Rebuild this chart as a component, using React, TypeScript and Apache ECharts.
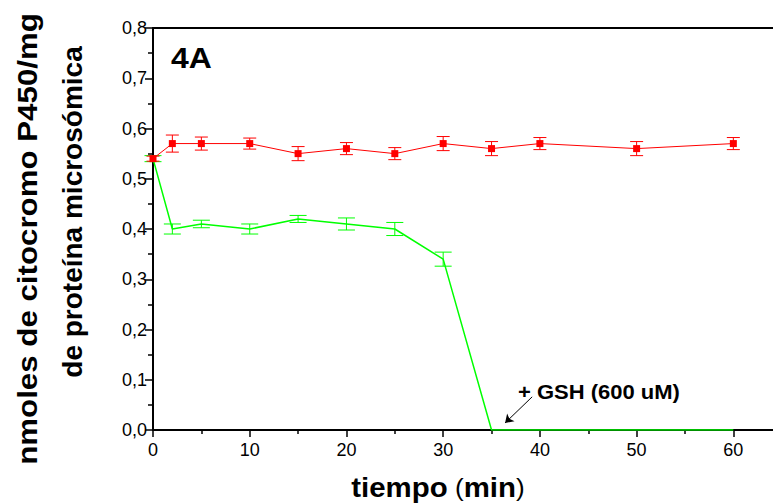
import { useEffect, useRef } from "react";
import * as echarts from "echarts";

const FONT = '"Liberation Sans", Arial, sans-serif';

// time points (min)
const times = [0, 2, 5, 10, 15, 20, 25, 30, 35, 40, 50, 60];
// control (red) series
const controlValues = [0.54, 0.57, 0.57, 0.57, 0.55, 0.56, 0.55, 0.57, 0.56, 0.57, 0.56, 0.57];
const controlErrors = [0.005, 0.017, 0.013, 0.011, 0.014, 0.012, 0.012, 0.014, 0.014, 0.012, 0.014, 0.012];
// treated (green) series
const greenValues = [0.54, 0.4, 0.41, 0.4, 0.42, 0.41, 0.4, 0.34, 0, 0, 0, 0];
const greenErrors = [0.006, 0.01, 0.0075, 0.01, 0.007, 0.012, 0.013, 0.014, 0, 0, 0, 0];

const xTicks = [0, 10, 20, 30, 40, 50, 60];
const yTicksFormat = (v: number) => v.toFixed(1).replace(".", ",");

// annotation arrow (data coordinates)
const arrowStart = [39.2, 0.066];
const arrowEnd = [36.4, 0.014];

function errorSeries(values: number[], errors: number[], color: string, capW: number) {
  const data = times
    .map((t, i) => [t, values[i] - errors[i], values[i] + errors[i], errors[i]])
    .filter((d) => d[3] > 0);
  return {
    type: "custom",
    clip: false,
    silent: true,
    data,
    encode: { x: 0, y: [1, 2] },
    renderItem: (_params: any, api: any) => {
      const x = api.value(0);
      const p1 = api.coord([x, api.value(1)]);
      const p2 = api.coord([x, api.value(2)]);
      const w = capW / 2;
      const style = { stroke: color, lineWidth: 1, fill: "none" };
      return {
        type: "group",
        children: [
          { type: "line", shape: { x1: p1[0], y1: p1[1], x2: p2[0], y2: p2[1] }, style },
          { type: "line", shape: { x1: p1[0] - w, y1: p1[1], x2: p1[0] + w, y2: p1[1] }, style },
          { type: "line", shape: { x1: p2[0] - w, y1: p2[1], x2: p2[0] + w, y2: p2[1] }, style },
        ],
      };
    },
  };
}

export default function App() {
  const ref = useRef<HTMLDivElement>(null);
  useEffect(() => {
    const chart = echarts.init(ref.current!, null, { renderer: "svg" });
    const axisLabelStyle = { color: "#000", fontSize: 18, fontFamily: FONT };
    chart.setOption({
      animation: false,
      backgroundColor: "#fff",
      grid: { left: 153, top: 28, right: 0, bottom: 73, containLabel: false },
      xAxis: [
        {
          type: "value",
          position: "bottom",
          min: 0,
          max: 64.1,
          interval: 10,
          axisLine: { show: true, onZero: false, lineStyle: { color: "#000", width: 2 } },
          axisTick: { show: true, length: 7, customValues: xTicks, lineStyle: { color: "#000", width: 1.5 } },
          minorTick: { show: true, splitNumber: 2, length: 4, lineStyle: { color: "#000", width: 1.5 } },
          splitLine: { show: false },
          minorSplitLine: { show: false },
          axisLabel: { ...axisLabelStyle, margin: 11, customValues: xTicks },
        },
        {
          type: "value",
          position: "top",
          min: 0,
          max: 64.1,
          axisLine: { show: true, onZero: false, lineStyle: { color: "#000", width: 2 } },
          axisTick: { show: false },
          axisLabel: { show: false },
          splitLine: { show: false },
        },
      ],
      yAxis: {
        type: "value",
        min: 0,
        max: 0.8,
        interval: 0.1,
        axisLine: { show: true, onZero: false, lineStyle: { color: "#000", width: 2 } },
        axisTick: { show: true, length: 8, lineStyle: { color: "#000", width: 1.5 } },
        minorTick: { show: true, splitNumber: 2, length: 5, lineStyle: { color: "#000", width: 1.5 } },
        splitLine: { show: false },
        minorSplitLine: { show: false },
        axisLabel: { ...axisLabelStyle, margin: 6, formatter: yTicksFormat },
      },
      series: [
        {
          type: "line",
          data: times.map((t, i) => [t, greenValues[i]]),
          symbol: "none",
          lineStyle: { color: "#00ff00", width: 1.5 },
          itemStyle: { color: "#00ff00" },
          markLine: {
            silent: true,
            symbol: ["none", "arrow"],
            symbolSize: 8,
            label: { show: false },
            lineStyle: { color: "#000", width: 1, type: "solid" },
            data: [[{ coord: arrowStart }, { coord: arrowEnd }]],
          },
        },
        errorSeries(greenValues, greenErrors, "#00ff00", 17),
        {
          type: "line",
          data: times.map((t, i) => [t, controlValues[i]]),
          symbol: "rect",
          symbolSize: 7,
          lineStyle: { color: "#ff0000", width: 1 },
          itemStyle: { color: "#ff0000" },
          z: 4,
        },
        { ...errorSeries(controlValues, controlErrors, "#ff0000", 13), z: 4 },
      ],
      graphic: [
        {
          type: "text",
          x: 171,
          y: 58,
          scaleX: 1.1,
          style: { text: "4A", font: `bold 29px ${FONT}`, fill: "#000", textAlign: "left", textVerticalAlign: "middle" },
        },
        {
          type: "text",
          x: 27,
          y: 239,
          rotation: Math.PI / 2,
          scaleX: 1.117,
          style: {
            text: "nmoles de citocromo P450/mg",
            font: `bold 28px ${FONT}`,
            fill: "#000",
            textAlign: "center",
            textVerticalAlign: "middle",
          },
        },
        {
          type: "text",
          x: 72,
          y: 212,
          rotation: Math.PI / 2,
          style: {
            text: "de proteína microsómica",
            font: `bold 28px ${FONT}`,
            fill: "#000",
            textAlign: "center",
            textVerticalAlign: "middle",
          },
        },
        {
          type: "text",
          x: 438,
          y: 487,
          scaleX: 1.09,
          style: {
            text: "{b|tiempo}{n| (}{b|min}{n|)}",
            rich: {
              b: { font: `bold 27px ${FONT}`, fill: "#000" },
              n: { font: `24px ${FONT}`, fill: "#000" },
            },
            textAlign: "center",
            textVerticalAlign: "middle",
          },
        },
        {
          type: "text",
          x: 518,
          y: 392,
          scaleX: 1.1,
          style: { text: "+ GSH (600 uM)", font: `bold 20px ${FONT}`, fill: "#000", textAlign: "left", textVerticalAlign: "middle" },
        },
      ],
    });
    return () => chart.dispose();
  }, []);
  return (
    <div
      ref={ref}
      style={{ position: "fixed", left: 0, top: 0, width: 773, height: 503, background: "#fff" }}
    />
  );
}
